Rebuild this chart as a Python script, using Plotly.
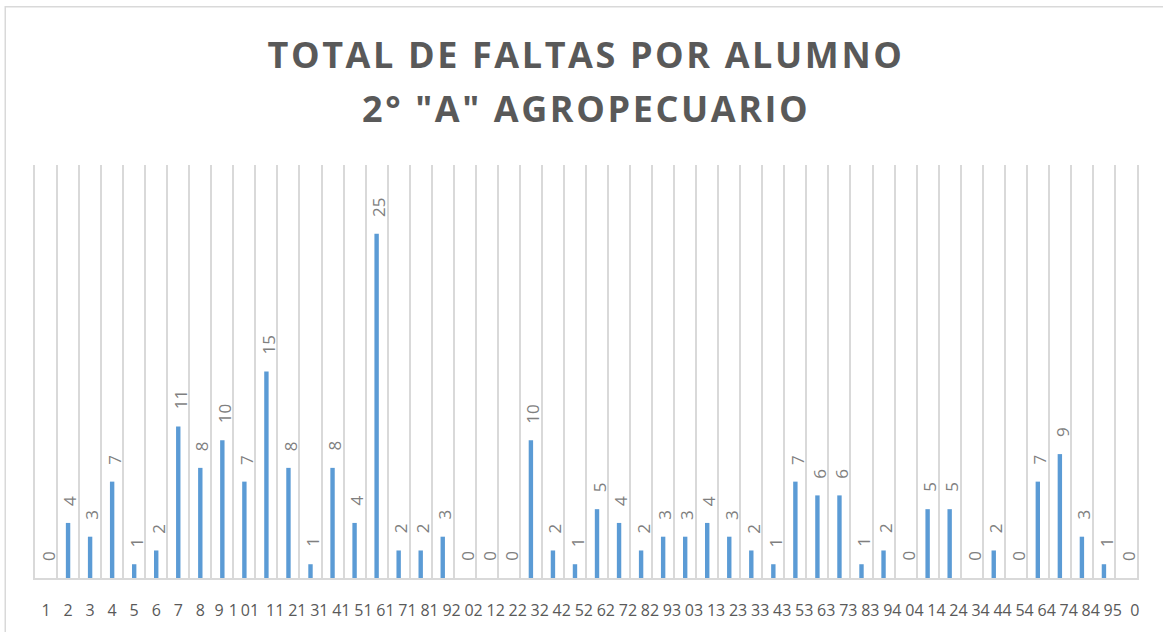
import plotly.graph_objects as go

alumnos = list(range(1, 51))
faltas = [0, 4, 3, 7, 1, 2, 11, 8, 10, 7, 15, 8, 1, 8, 4, 25, 2, 2, 3, 0,
          0, 0, 10, 2, 1, 5, 4, 2, 3, 3, 4, 3, 2, 1, 7, 6, 6, 1, 2, 0,
          5, 5, 0, 2, 0, 7, 9, 3, 1, 0]
# tick labels exactly as they appear under the axis
tick_labels = ["1", "2", "3", "4", "5", "6", "7", "8", "9", "1", "01", "11", "21",
               "31", "41", "51", "61", "71", "81", "92", "02", "12", "22", "32",
               "42", "52", "62", "72", "82", "93", "03", "13", "23", "33", "43",
               "53", "63", "73", "83", "94", "04", "14", "24", "34", "44", "54",
               "64", "74", "84", "95", "0"]
title_line1 = "TOTAL DE FALTAS POR ALUMNO"
title_line2 = '2° "A" AGROPECUARIO'

# label positions along the category axis (labels are not aligned with bars)
tick_pos = [1, 2, 3, 4, 5, 6, 7, 8, 8.85, 9.5, 10.25] + \
           [i + 0.4 for i in range(11, len(tick_labels))]

GRID = "#d9d9d9"
TITLE_FONT = dict(family="Open Sans", size=36, color="#595959")
fig = go.Figure()
fig.add_trace(go.Bar(x=alumnos, y=faltas, width=0.2,
                     marker=dict(color="#5B9BD5", line=dict(width=0)),
                     hoverinfo="x+y"))

for a, f in zip(alumnos, faltas):
    fig.add_annotation(x=a, y=f, text=str(f), textangle=-90, showarrow=False,
                       xanchor="center", yanchor="bottom", yshift=15, xshift=2,
                       font=dict(family="Open Sans", size=17, color="#7f7f7f"))


def spaced(t):
    return '<b><span style="letter-spacing:2.6px">' + t + "</span></b>"


# second title line
fig.add_annotation(text=spaced(title_line2), xref="paper", yref="paper",
                   x=0.5, y=1.138, xanchor="center", yanchor="middle",
                   showarrow=False, font=TITLE_FONT)

fig.update_layout(
    width=1163, height=632,
    margin=dict(l=35, r=26, t=165, b=54, autoexpand=False),
    paper_bgcolor="white", plot_bgcolor="white",
    showlegend=False,
    title=dict(text=spaced(title_line1),
               x=0.5, xanchor="center", xref="paper",
               y=1 - 55 / 632, yref="container", yanchor="middle",
               font=TITLE_FONT),
    xaxis=dict(range=[0.5, 50.5], tickmode="array", tickvals=tick_pos,
               ticktext=tick_labels, showgrid=False, zeroline=False,
               showline=True, linecolor=GRID, linewidth=1.5,
               ticks="", ticklabelstandoff=17, tickangle=0, automargin=False,
               tickfont=dict(family="Open Sans", size=16, color="#595959"),
               minor=dict(tickmode="array",
                          tickvals=[a + 0.5 for a in alumnos[:-1]],
                          showgrid=True, gridcolor=GRID, gridwidth=1.5, ticks="")),
    yaxis=dict(range=[0, 30], showgrid=False, zeroline=False,
               showticklabels=False, ticks="", automargin=False,
               showline=True, mirror=True, linecolor=GRID, linewidth=1.5),
    shapes=[dict(type="rect", xref="paper", yref="paper",
                 x0=-0.027, x1=1.05, y0=-0.2, y1=1.383,
                 line=dict(color=GRID, width=1.5), layer="below")],
)

fig.write_html("out.html", config={"displayModeBar": False},
               post_script="document.body.style.margin='0';"
                           "document.body.style.overflow='hidden';")
